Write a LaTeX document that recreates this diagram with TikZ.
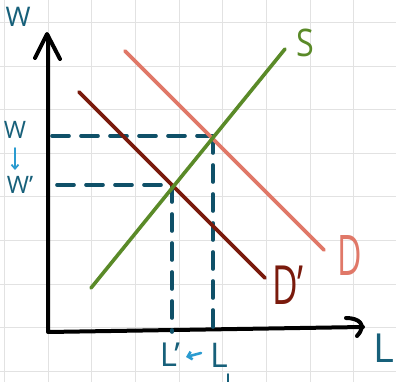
\documentclass[tikz,border=0pt]{standalone}
\usepackage{fontspec}
\setmainfont{Open Sans}
\usetikzlibrary{arrows.meta}
\definecolor{gridc}{HTML}{E2E2E2}
\definecolor{teal}{HTML}{0F5068}
\definecolor{lteal}{HTML}{17607A}
\definecolor{arrblue}{HTML}{2A9BD0}
\definecolor{sgreen}{HTML}{5A8A28}
\definecolor{dsalmon}{HTML}{E07868}
\definecolor{dpdark}{HTML}{7A1A0C}
\begin{document}
\begin{tikzpicture}[x=1pt,y=-1pt,
  axis/.style={line width=4pt,black,line cap=round,line join=round},
  curve/.style={line width=3.6pt,line cap=round},
  guide/.style={line width=3.6pt,teal,line cap=round,dash pattern=on 17pt off 12pt},
  lbl/.style={inner sep=0pt,font=\fontsize{#1}{#1}\selectfont}]
\useasboundingbox (0,0) rectangle (396,382);
\fill[white] (0,0) rectangle (396,382);
% grid
\foreach \k in {0,...,9} {\draw[gridc,line width=1pt] ({4.3+43.7*\k},0) -- ({4.3+43.7*\k},382);}
\foreach \k in {0,...,8} {\draw[gridc,line width=1pt] (0,{23+43.5*\k}) -- (396,{23+43.5*\k});}
% axes
\coordinate (O) at (48,332);
\coordinate (Ytop) at (48,36);
\coordinate (Xend) at (363,327);
\draw[axis] (Ytop) -- (O) -- (Xend);
\draw[axis] (35,58) -- (47,34) -- (60,59);
\draw[axis] (346,318) .. controls (358,318) and (368,324) .. (357,336);
% intersections
\coordinate (E1) at (213,136);
\coordinate (E2) at (172,185);
\coordinate (W1) at (52,136);
\coordinate (W2) at (57,185);
\coordinate (L1) at (213,332);
\coordinate (L2) at (172,332);
\draw[guide] (W1) -- (E1);
\draw[guide] (W2) -- (E2);
\draw[guide] (E1) -- (L1);
\draw[guide] (E2) -- (L2);
% curves
\coordinate (Sa) at (91,288); \coordinate (Sb) at (285,49);
\coordinate (Da) at (125,51); \coordinate (Db) at (324,250);
\coordinate (Pa) at (79,92); \coordinate (Pb) at (265,278);
\draw[curve,dsalmon] (Da) -- (Db);
\draw[curve,dpdark] (Pa) -- (Pb);
\draw[curve,sgreen] (Sa) -- (Sb);
% labels
\node[lbl=27,text=lteal] (tw) at (18,17) {W};
\node[lbl=24,text=lteal] (mw) at (15,130) {W};
\node[lbl=24,text=lteal] (mwp) at (20,185) {W'};
\draw[arrblue,line width=1.8pt,line cap=round,-{Straight Barb[length=4pt,width=7pt]}] (15,148) -- (15,170);
\node[lbl=33,text=lteal] (lp) at (170,355) {L'};
\draw[arrblue,line width=2.6pt,line cap=round,-{Straight Barb[length=4pt,width=8pt]}] (201,353) -- (186,357);
\node[lbl=34,text=lteal] (l1) at (219,355) {L};
\draw[lteal,line width=1.6pt,line cap=round] (228,374) -- (228,382);
\node[lbl=40,text=lteal,anchor=west] (lx) at (373,348) {L};
\node[lbl=38,text=sgreen,xscale=0.85] (sl) at (305,43) {S};
\node[lbl=56,text=dsalmon,xscale=0.6] (dl) at (350,256) {D};
\node[lbl=54,text=dpdark,xscale=0.65] (dpl) at (288,285) {D'};
\end{tikzpicture}
\end{document}
